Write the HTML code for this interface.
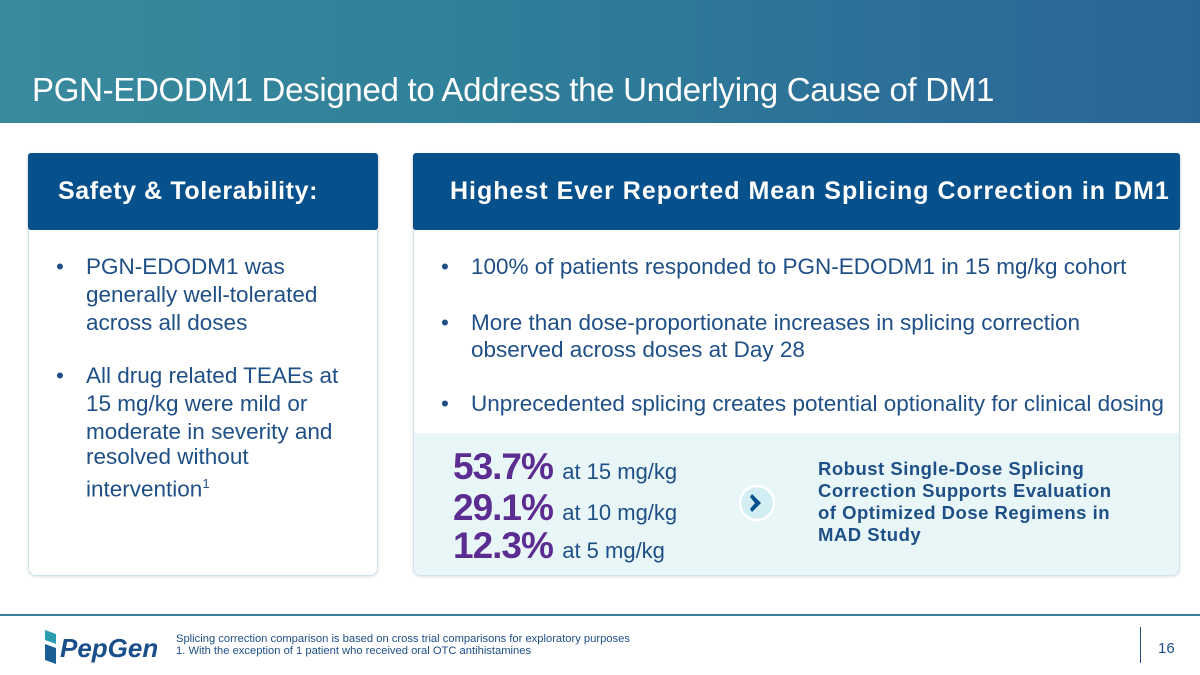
<!DOCTYPE html>
<html><head><meta charset="utf-8"><style>
*{margin:0;padding:0;box-sizing:border-box}
body{width:1200px;height:675px;position:relative;background:#fff;font-family:"Liberation Sans",sans-serif;overflow:hidden}
.a{position:absolute;white-space:nowrap}
.hdr{position:absolute;left:0;top:0;width:1200px;height:123px;background:linear-gradient(90deg,#3a8a9e 0%,#2f8099 40%,#2c6f98 75%,#2a6596 100%)}
.box{position:absolute;background:#06508c;border-radius:3px;box-shadow:0 2px 3px rgba(0,0,0,.25)}
.card{position:absolute;background:#fff;border:1px solid #cfe3ec;border-top:none;border-radius:0 0 8px 8px;box-shadow:0 1px 3px rgba(0,0,0,.12)}
.b{font-size:22.5px;color:#1e4f86;line-height:22px}
.st{font-size:37px;font-weight:bold;color:#5b2d90;letter-spacing:-1px}
.sm{font-size:22px;color:#1e4f86;font-weight:normal;letter-spacing:0}
.rb{font-size:18.5px;font-weight:bold;color:#1e4f86;line-height:22px;letter-spacing:0.5px}
.ht{font-size:25px;font-weight:bold;color:#fff;letter-spacing:1px}
</style></head><body>
<div class="hdr"></div>
<div class="a" style="left:32px;top:71px;font-size:33px;color:#fff;letter-spacing:-0.3px">PGN-EDODM1 Designed to Address the Underlying Cause of DM1</div>

<div class="box" style="left:28px;top:153px;width:350px;height:77px"></div>
<div class="a ht" style="left:58px;top:177px;letter-spacing:0.6px">Safety &amp; Tolerability:</div>
<div class="card" style="left:28px;top:230px;width:350px;height:346px"></div>

<div class="box" style="left:413px;top:153px;width:767px;height:77px"></div>
<div class="a ht" style="left:450px;top:177px">Highest Ever Reported Mean Splicing Correction in DM1</div>
<div class="card" style="left:413px;top:230px;width:767px;height:346px;overflow:hidden"><div style="position:absolute;left:0;top:203px;width:767px;height:143px;background:#e9f6f8"></div></div>

<div class="a b" style="left:56px;top:256px">•</div>
<div class="a b" style="left:86px;top:256px">PGN-EDODM1 was</div>
<div class="a b" style="left:86px;top:284px">generally well-tolerated</div>
<div class="a b" style="left:86px;top:312px">across all doses</div>
<div class="a b" style="left:56px;top:365px">•</div>
<div class="a b" style="left:86px;top:365px">All drug related TEAEs at</div>
<div class="a b" style="left:86px;top:393px">15 mg/kg were mild or</div>
<div class="a b" style="left:86px;top:421px">moderate in severity and</div>
<div class="a b" style="left:86px;top:446px">resolved without</div>
<div class="a b" style="left:86px;top:473px">intervention<sup style="font-size:13px">1</sup></div>

<div class="a b" style="left:441px;top:256px">•</div>
<div class="a b" style="left:471px;top:256px">100% of patients responded to PGN-EDODM1 in 15 mg/kg cohort</div>
<div class="a b" style="left:441px;top:312px">•</div>
<div class="a b" style="left:471px;top:312px">More than dose-proportionate increases in splicing correction</div>
<div class="a b" style="left:471px;top:339px">observed across doses at Day 28</div>
<div class="a b" style="left:441px;top:393px">•</div>
<div class="a b" style="left:471px;top:393px">Unprecedented splicing creates potential optionality for clinical dosing</div>

<div class="a st" style="left:453px;top:446px">53.7% <span class="sm">at 15 mg/kg</span></div>
<div class="a st" style="left:453px;top:487px">29.1% <span class="sm">at 10 mg/kg</span></div>
<div class="a st" style="left:453px;top:525px">12.3% <span class="sm">at 5 mg/kg</span></div>

<svg class="a" style="left:737px;top:483px" width="40" height="40"><circle cx="20" cy="20" r="17" fill="#d3eef2" stroke="#fff" stroke-width="2.5"/><path d="M15 11 L24 20 L15 29 L13 26 L18 20 L13 14 Z" fill="#06508c"/></svg>

<div class="a rb" style="left:818px;top:458px">Robust Single-Dose Splicing<br>Correction Supports Evaluation<br>of Optimized Dose Regimens in<br>MAD Study</div>

<div class="a" style="left:0;top:614px;width:1200px;height:2px;background:#3e7c9c"></div>
<svg class="a" style="left:42px;top:626px" width="120" height="42">
<path d="M3 4 L14 8 L14 18 L3 14 Z" fill="#2a9db0"/><path d="M3 18 L14 22 L14 38 L3 34 Z" fill="#1a5e96"/>
<text x="18" y="31" font-family="Liberation Sans" font-size="26" font-weight="bold" font-style="italic" fill="#1a4f8a">PepGen</text></svg>
<div class="a" style="left:176px;top:633px;font-size:11.2px;color:#1e4f86">Splicing correction comparison is based on cross trial comparisons for exploratory purposes</div>
<div class="a" style="left:176px;top:645px;font-size:11.2px;color:#1e4f86">1. With the exception of 1 patient who received oral OTC antihistamines</div>
<div class="a" style="left:1140px;top:627px;width:1px;height:36px;background:#1e4f86"></div>
<div class="a" style="left:1158px;top:640px;font-size:15px;color:#1e4f86">16</div>
</body></html>
